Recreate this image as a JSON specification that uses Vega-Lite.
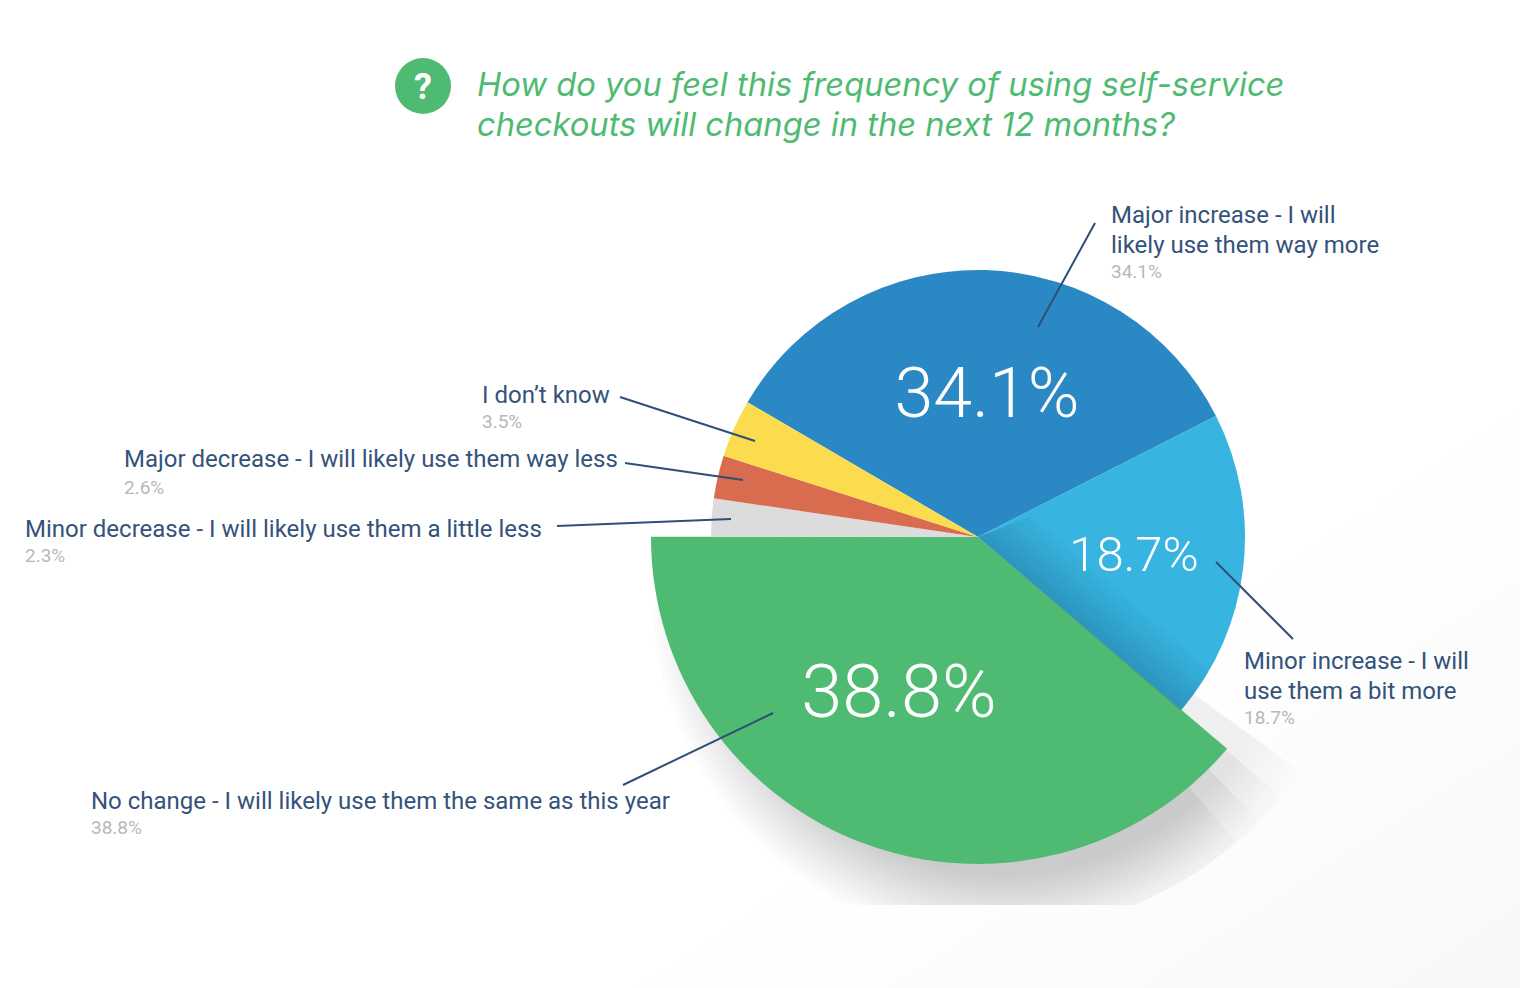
{
"$schema":"https://vega.github.io/schema/vega-lite/v6.json",
"width":1084,"height":736,"padding":{"left":436,"top":169,"right":0,"bottom":83},"autosize":"none","background":"#ffffff",
"config":{"view":{"stroke":null},"text":{"baseline":"alphabetic"}},
"title":{"text":["How do you feel this frequency of using self-service","checkouts will change in the next 12 months?"],"anchor":"start","frame":"group","dx":41,"offset":-143,"font":"Inter","fontStyle":"italic","fontWeight":400,"fontSize":32.7,"lineHeight":40,"color":"#4fba72"},
"datasets":{"slices":[
{"answer":"Major increase - I will\nlikely use them way more","share":34.1,"shareText":"34.1%","rank":1},
{"answer":"Minor increase - I will\nuse them a bit more","share":18.7,"shareText":"18.7%","rank":2},
{"answer":"No change - I will likely use them the same as this year","share":38.8,"shareText":"38.8%","rank":3},
{"answer":"Minor decrease - I will likely use them a little less","share":2.3,"shareText":"2.3%","rank":4},
{"answer":"Major decrease - I will likely use them way less","share":2.6,"shareText":"2.6%","rank":5},
{"answer":"I don’t know","share":3.5,"shareText":"3.5%","rank":6}
],"one":[{"mark":"?"}]},
"data":{"name":"slices"},
"layer":[
{"data":{"name":"one"},"mark":{"type":"rect","fill":{"gradient":"linear","x1":0.35,"y1":0.35,"x2":1,"y2":1,"stops":[{"offset":0,"color":"#ffffff"},{"offset":0.55,"color":"#ffffff"},{"offset":1,"color":"#f7f8f8"}]}},"encoding":{"x":{"value":-436},"x2":{"value":1084},"y":{"value":-169},"y2":{"value":819}}},
{"data":{"name":"one"},"mark":{"type":"arc","clip":true,"radius":400,"theta":2.2,"theta2":4.5,"fill":{"gradient":"radial","x1":0.585,"y1":0.294,"r1":0,"x2":0.585,"y2":0.294,"r2":0.497,"stops":[{"offset":0,"color":"rgba(70,75,75,0.08)"},{"offset":0.8,"color":"rgba(70,75,75,0.08)"},{"offset":0.92,"color":"rgba(70,75,75,0.028)"},{"offset":1,"color":"rgba(70,75,75,0)"}]}},"encoding":{}},
{"data":{"name":"one"},"mark":{"type":"arc","clip":true,"radius":400,"theta":2.28,"theta2":4.5,"fill":{"gradient":"radial","x1":0.601,"y1":0.2885,"r1":0,"x2":0.601,"y2":0.2885,"r2":0.511,"stops":[{"offset":0,"color":"rgba(70,75,75,0.08)"},{"offset":0.8,"color":"rgba(70,75,75,0.08)"},{"offset":0.92,"color":"rgba(70,75,75,0.028)"},{"offset":1,"color":"rgba(70,75,75,0)"}]}},"encoding":{}},
{"data":{"name":"one"},"mark":{"type":"arc","clip":true,"radius":400,"theta":2.36,"theta2":4.5,"fill":{"gradient":"radial","x1":0.621,"y1":0.282,"r1":0,"x2":0.621,"y2":0.282,"r2":0.527,"stops":[{"offset":0,"color":"rgba(70,75,75,0.08)"},{"offset":0.8,"color":"rgba(70,75,75,0.08)"},{"offset":0.92,"color":"rgba(70,75,75,0.028)"},{"offset":1,"color":"rgba(70,75,75,0)"}]}},"encoding":{}},
{"data":{"name":"one"},"mark":{"type":"arc","clip":true,"radius":400,"theta":2.44,"theta2":4.5,"fill":{"gradient":"radial","x1":0.644,"y1":0.2735,"r1":0,"x2":0.644,"y2":0.2735,"r2":0.547,"stops":[{"offset":0,"color":"rgba(70,75,75,0.08)"},{"offset":0.8,"color":"rgba(70,75,75,0.08)"},{"offset":0.92,"color":"rgba(70,75,75,0.028)"},{"offset":1,"color":"rgba(70,75,75,0)"}]}},"encoding":{}},
{"mark":{"type":"arc"},"encoding":{
"theta":{"field":"share","type":"quantitative","stack":true,"scale":{"range":[-1.042,5.2412]}},
"order":{"field":"rank","type":"ordinal"},
"color":{"field":"rank","type":"nominal","legend":null,"scale":{"domain":[1,2,3,4,5,6],"range":["#2a88c5","#37b5e0","#4fba72","#dcdcdc","#d96b4f","#fbdc4f"]}},
"radius":{"field":"share","type":"quantitative","legend":null,"scale":{"domain":[0,1,34.1,38.8],"range":[0,267,267,327]}}}},
{"data":{"name":"one"},"mark":{"type":"arc","radius":267,"theta":1.2,"theta2":2.279,"fill":{"gradient":"linear","x1":0,"y1":0.358,"x2":0.132,"y2":0.202,"stops":[{"offset":0,"color":"rgba(20,80,120,0.32)"},{"offset":1,"color":"rgba(20,80,120,0)"}]}},"encoding":{}},

{"transform":[{"filter":"datum.rank===1"}],"layer":[
{"mark":{"type":"rule","color":"#2f4f78","strokeWidth":2},"encoding":{"x":{"value":659},"x2":{"value":602},"y":{"value":54},"y2":{"value":158}}},
{"mark":{"type":"text","align":"left","baseline":"alphabetic","font":"Roboto","fontSize":24,"lineHeight":30,"lineBreak":"\n","color":"#34527a"},"encoding":{"text":{"field":"answer"},"x":{"value":675},"y":{"value":54}}},
{"mark":{"type":"text","align":"left","baseline":"alphabetic","font":"Roboto","fontSize":19,"color":"#b8b8b8"},"encoding":{"text":{"field":"shareText"},"x":{"value":675},"y":{"value":109}}},
{"mark":{"type":"text","align":"center","baseline":"alphabetic","font":"Roboto","fontWeight":300,"fontSize":70,"color":"#ffffff"},"encoding":{"text":{"field":"shareText"},"x":{"value":551},"y":{"value":248}}}
]},
{"transform":[{"filter":"datum.rank===2"}],"layer":[
{"mark":{"type":"rule","color":"#2f4f78","strokeWidth":2},"encoding":{"x":{"value":780},"x2":{"value":857},"y":{"value":393},"y2":{"value":470}}},
{"mark":{"type":"text","align":"left","baseline":"alphabetic","font":"Roboto","fontSize":24,"lineHeight":30,"lineBreak":"\n","color":"#34527a"},"encoding":{"text":{"field":"answer"},"x":{"value":808},"y":{"value":500}}},
{"mark":{"type":"text","align":"left","baseline":"alphabetic","font":"Roboto","fontSize":19,"color":"#b8b8b8"},"encoding":{"text":{"field":"shareText"},"x":{"value":808},"y":{"value":555}}},
{"mark":{"type":"text","align":"center","baseline":"alphabetic","font":"Roboto","fontWeight":300,"fontSize":49,"color":"#ffffff"},"encoding":{"text":{"field":"shareText"},"x":{"value":698},"y":{"value":402}}}
]},
{"transform":[{"filter":"datum.rank===3"}],"layer":[
{"mark":{"type":"rule","color":"#2f4f78","strokeWidth":2},"encoding":{"x":{"value":337},"x2":{"value":187},"y":{"value":544},"y2":{"value":616}}},
{"mark":{"type":"text","align":"left","baseline":"alphabetic","font":"Roboto","fontSize":24,"color":"#34527a"},"encoding":{"text":{"field":"answer"},"x":{"value":-345},"y":{"value":640}}},
{"mark":{"type":"text","align":"left","baseline":"alphabetic","font":"Roboto","fontSize":19,"color":"#b8b8b8"},"encoding":{"text":{"field":"shareText"},"x":{"value":-345},"y":{"value":665}}},
{"mark":{"type":"text","align":"center","baseline":"alphabetic","font":"Roboto","fontWeight":300,"fontSize":74,"color":"#ffffff"},"encoding":{"text":{"field":"shareText"},"x":{"value":463},"y":{"value":548}}}
]},
{"transform":[{"filter":"datum.rank===4"}],"layer":[
{"mark":{"type":"rule","color":"#2f4f78","strokeWidth":2},"encoding":{"x":{"value":121},"x2":{"value":295},"y":{"value":357},"y2":{"value":350}}},
{"mark":{"type":"text","align":"left","baseline":"alphabetic","font":"Roboto","fontSize":24,"color":"#34527a"},"encoding":{"text":{"field":"answer"},"x":{"value":-411},"y":{"value":368}}},
{"mark":{"type":"text","align":"left","baseline":"alphabetic","font":"Roboto","fontSize":19,"color":"#b8b8b8"},"encoding":{"text":{"field":"shareText"},"x":{"value":-411},"y":{"value":393}}}
]},
{"transform":[{"filter":"datum.rank===5"}],"layer":[
{"mark":{"type":"rule","color":"#2f4f78","strokeWidth":2},"encoding":{"x":{"value":189},"x2":{"value":307},"y":{"value":294},"y2":{"value":311}}},
{"mark":{"type":"text","align":"left","baseline":"alphabetic","font":"Roboto","fontSize":24,"color":"#34527a"},"encoding":{"text":{"field":"answer"},"x":{"value":-312},"y":{"value":298}}},
{"mark":{"type":"text","align":"left","baseline":"alphabetic","font":"Roboto","fontSize":19,"color":"#b8b8b8"},"encoding":{"text":{"field":"shareText"},"x":{"value":-312},"y":{"value":325}}}
]},
{"transform":[{"filter":"datum.rank===6"}],"layer":[
{"mark":{"type":"rule","color":"#2f4f78","strokeWidth":2},"encoding":{"x":{"value":184},"x2":{"value":319},"y":{"value":228},"y2":{"value":272}}},
{"mark":{"type":"text","align":"left","baseline":"alphabetic","font":"Roboto","fontSize":24,"color":"#34527a"},"encoding":{"text":{"field":"answer"},"x":{"value":46},"y":{"value":234}}},
{"mark":{"type":"text","align":"left","baseline":"alphabetic","font":"Roboto","fontSize":19,"color":"#b8b8b8"},"encoding":{"text":{"field":"shareText"},"x":{"value":46},"y":{"value":259}}}
]},
{"data":{"name":"one"},"mark":{"type":"point","filled":true,"shape":"circle","size":3136,"opacity":1,"color":"#4fba72"},"encoding":{"x":{"value":-13},"y":{"value":-83}}},
{"data":{"name":"one"},"mark":{"type":"text","align":"center","baseline":"alphabetic","font":"Roboto","fontWeight":700,"fontSize":36,"color":"#ffffff"},"encoding":{"text":{"field":"mark"},"x":{"value":-13},"y":{"value":-70}}}
]}
